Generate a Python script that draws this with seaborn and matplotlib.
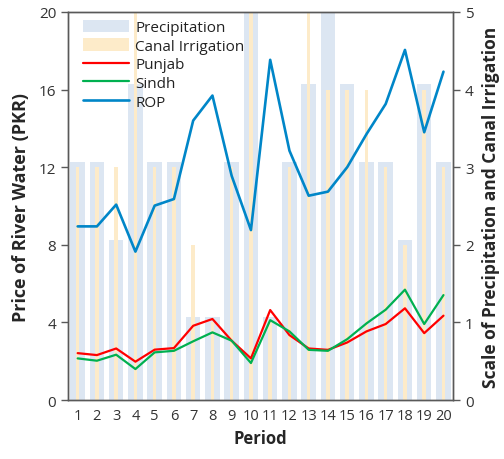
import matplotlib
matplotlib.use("Agg")
import matplotlib.pyplot as plt
import numpy as np
import pandas as pd
import seaborn as sns

# data
periods = list(range(1, 21))
precipitation = [3.07, 3.07, 2.06, 4.07, 3.07, 3.07, 1.07, 1.07, 3.07, 5.1,
                 1.07, 3.07, 4.07, 5.1, 4.07, 3.07, 3.07, 2.06, 4.07, 3.07]
canal_irrigation = [3, 3, 3, 5, 3, 3, 2, 1, 3, 5,
                    1, 3, 5, 4, 4, 4, 3, 2, 4, 3]
punjab = [2.42, 2.32, 2.66, 1.98, 2.60, 2.68, 3.83, 4.18, 3.06, 2.15,
          4.64, 3.35, 2.66, 2.59, 2.97, 3.54, 3.92, 4.73, 3.45, 4.35]
sindh = [2.15, 2.03, 2.34, 1.60, 2.46, 2.54, 3.03, 3.49, 3.06, 1.91,
         4.12, 3.54, 2.59, 2.54, 3.14, 3.95, 4.66, 5.69, 3.92, 5.41]
rop = [8.95, 8.95, 10.07, 7.65, 10.02, 10.36, 14.4, 15.69, 11.55, 8.76,
       17.53, 12.85, 10.53, 10.74, 12.0, 13.7, 15.26, 18.04, 13.8, 16.92]

df = pd.DataFrame({"period": periods, "precip": precipitation, "canal": canal_irrigation,
                   "punjab": punjab, "sindh": sindh, "rop": rop})

sns.set_style("white")
plt.rcParams["font.family"] = ["Open Sans", "DejaVu Sans"]

fig = plt.figure(figsize=(5.04, 4.60), dpi=100)
ax = fig.add_axes([0.135, 0.128, 0.764, 0.844])
ax2 = ax.twinx()

# bars on the right scale
sns.barplot(data=df, x="period", y="precip", ax=ax2, native_scale=True, color="#DCE6F2",
            width=0.75, saturation=1, linewidth=0, label="Precipitation")
sns.barplot(data=df, x="period", y="canal", ax=ax2, native_scale=True, color="#FDEBC9",
            width=0.18, saturation=1, linewidth=0, label="Canal Irrigation")

# lines on the left scale
sns.lineplot(data=df, x="period", y="punjab", ax=ax, color="#FF0000", lw=1.6, label="Punjab")
sns.lineplot(data=df, x="period", y="sindh", ax=ax, color="#00B050", lw=1.6, label="Sindh")
sns.lineplot(data=df, x="period", y="rop", ax=ax, color="#0086C8", lw=1.9, label="ROP")

ax.set_zorder(ax2.get_zorder() + 1)
ax.patch.set_visible(False)

ax.set_ylim(0, 20)
ax2.set_ylim(0, 5)
ax.set_xlim(0.5, 20.5)
ax.set_yticks([0, 4, 8, 12, 16, 20])
ax2.set_yticks([0, 1, 2, 3, 4, 5])
ax.set_xticks(periods)
ax.set_xticklabels([str(p) for p in periods])
ax.set_xticks(np.arange(0.5, 21, 1), minor=True)

tc = "#333333"
ax.tick_params(axis="x", which="major", length=0, labelsize=10.5, pad=6, colors=tc)
ax.tick_params(axis="x", which="minor", length=4, width=1, color="#595959", direction="out")
ax.tick_params(axis="y", length=5, width=1, color="#595959", labelsize=11, labelcolor=tc, direction="out")
ax2.tick_params(axis="y", length=5, width=1, color="#595959", labelsize=11, labelcolor=tc, direction="out")

ax.set_xlabel("Period", fontsize=12, fontweight="bold", labelpad=4)
ax.set_ylabel("Price of River Water (PKR)", fontsize=13, fontweight="bold", labelpad=6)
ax2.set_ylabel("Scale of Precipitation and Canal Irrigation", fontsize=12.5, fontweight="bold", labelpad=6)

for a in (ax, ax2):
    for s in a.spines.values():
        s.set_color("#595959")
        s.set_linewidth(1.0)

h1, l1 = ax2.get_legend_handles_labels()
h2, l2 = ax.get_legend_handles_labels()
leg = ax.legend(h1 + h2, l1 + l2, loc="upper left", frameon=False, fontsize=11,
                handlelength=3.0, handleheight=0.9, labelspacing=0.2,
                borderaxespad=0.1, handletextpad=0.4, bbox_to_anchor=(0.02, 1.0))
for t in leg.get_texts():
    t.set_color("#222222")
if ax2.get_legend() is not None:
    ax2.get_legend().remove()

fig.savefig("out.png", dpi=100)
